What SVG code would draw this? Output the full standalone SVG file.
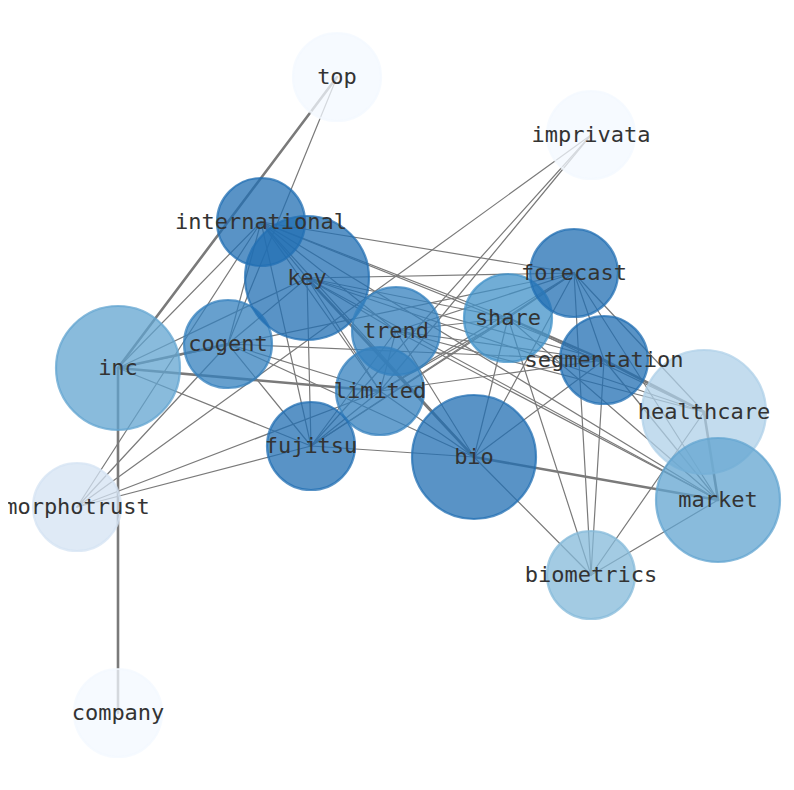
<svg xmlns="http://www.w3.org/2000/svg" width="794" height="790" viewBox="0 0 794 790">
<style>
.bg{fill:#ffffff}
.e{stroke:#7a7a7a;stroke-width:1.2;stroke-linecap:round}
.t{stroke-width:2.6}
.n{fill-opacity:0.75;stroke-opacity:0.75;stroke-width:2.2}
.c0{fill:#f3f8ff;stroke:#f3f8ff}
.c1{fill:#d4e3f3;stroke:#d4e3f3}
.c2{fill:#afd0e8;stroke:#afd0e8}
.c3{fill:#84b9da;stroke:#84b9da}
.c4{fill:#61a4d0;stroke:#61a4d0}
.c5{fill:#4191c8;stroke:#4191c8}
.c6{fill:#3480be;stroke:#3480be}
.c7{fill:#226fb3;stroke:#226fb3}
.l{font-family:"DejaVu Sans Mono","Liberation Mono",monospace;font-size:22px;fill:#333333;text-anchor:middle}
</style>
<defs>
<clipPath id="axclip"><rect x="8" y="0" width="786" height="790"/></clipPath>
</defs>
<rect class="bg" x="0" y="0" width="794" height="790"/>
<g id="connectors">
<line class="e t" x1="337" y1="77" x2="118" y2="368"/>
<line class="e" x1="337" y1="77" x2="228" y2="344"/>
<line class="e" x1="591" y1="135" x2="77" y2="507"/>
<line class="e" x1="591" y1="135" x2="311" y2="446"/>
<line class="e" x1="591" y1="135" x2="380" y2="391"/>
<line class="e t" x1="118" y1="368" x2="118" y2="713"/>
<line class="e t" x1="118" y1="368" x2="228" y2="344"/>
<line class="e t" x1="118" y1="368" x2="380" y2="391"/>
<line class="e" x1="118" y1="368" x2="311" y2="446"/>
<line class="e" x1="118" y1="368" x2="261" y2="222"/>
<line class="e" x1="118" y1="368" x2="307" y2="278"/>
<line class="e" x1="118" y1="368" x2="574" y2="273"/>
<line class="e" x1="261" y1="222" x2="307" y2="278"/>
<line class="e" x1="261" y1="222" x2="228" y2="344"/>
<line class="e" x1="261" y1="222" x2="311" y2="446"/>
<line class="e" x1="261" y1="222" x2="574" y2="273"/>
<line class="e" x1="261" y1="222" x2="508" y2="318"/>
<line class="e" x1="261" y1="222" x2="604" y2="360"/>
<line class="e" x1="261" y1="222" x2="396" y2="331"/>
<line class="e" x1="261" y1="222" x2="474" y2="457"/>
<line class="e" x1="261" y1="222" x2="380" y2="391"/>
<line class="e" x1="261" y1="222" x2="77" y2="507"/>
<line class="e" x1="261" y1="222" x2="718" y2="500"/>
<line class="e" x1="307" y1="278" x2="228" y2="344"/>
<line class="e" x1="307" y1="278" x2="311" y2="446"/>
<line class="e" x1="307" y1="278" x2="380" y2="391"/>
<line class="e t" x1="307" y1="278" x2="474" y2="457"/>
<line class="e" x1="307" y1="278" x2="396" y2="331"/>
<line class="e" x1="307" y1="278" x2="508" y2="318"/>
<line class="e" x1="307" y1="278" x2="574" y2="273"/>
<line class="e" x1="307" y1="278" x2="604" y2="360"/>
<line class="e" x1="307" y1="278" x2="704" y2="412"/>
<line class="e" x1="307" y1="278" x2="718" y2="500"/>
<line class="e" x1="228" y1="344" x2="77" y2="507"/>
<line class="e" x1="228" y1="344" x2="311" y2="446"/>
<line class="e" x1="228" y1="344" x2="380" y2="391"/>
<line class="e" x1="228" y1="344" x2="474" y2="457"/>
<line class="e" x1="228" y1="344" x2="604" y2="360"/>
<line class="e" x1="77" y1="507" x2="311" y2="446"/>
<line class="e" x1="77" y1="507" x2="380" y2="391"/>
<line class="e" x1="311" y1="446" x2="474" y2="457"/>
<line class="e" x1="311" y1="446" x2="380" y2="391"/>
<line class="e" x1="311" y1="446" x2="396" y2="331"/>
<line class="e" x1="311" y1="446" x2="508" y2="318"/>
<line class="e" x1="311" y1="446" x2="574" y2="273"/>
<line class="e" x1="380" y1="391" x2="396" y2="331"/>
<line class="e" x1="380" y1="391" x2="508" y2="318"/>
<line class="e" x1="380" y1="391" x2="574" y2="273"/>
<line class="e" x1="380" y1="391" x2="604" y2="360"/>
<line class="e" x1="380" y1="391" x2="474" y2="457"/>
<line class="e" x1="396" y1="331" x2="508" y2="318"/>
<line class="e" x1="396" y1="331" x2="574" y2="273"/>
<line class="e" x1="396" y1="331" x2="604" y2="360"/>
<line class="e" x1="396" y1="331" x2="474" y2="457"/>
<line class="e" x1="396" y1="331" x2="718" y2="500"/>
<line class="e" x1="396" y1="331" x2="704" y2="412"/>
<line class="e" x1="508" y1="318" x2="574" y2="273"/>
<line class="e" x1="508" y1="318" x2="604" y2="360" style="stroke-width:2"/>
<line class="e" x1="508" y1="318" x2="704" y2="412"/>
<line class="e" x1="508" y1="318" x2="718" y2="500"/>
<line class="e" x1="508" y1="318" x2="474" y2="457"/>
<line class="e" x1="508" y1="318" x2="591" y2="575"/>
<line class="e" x1="574" y1="273" x2="604" y2="360"/>
<line class="e" x1="574" y1="273" x2="474" y2="457"/>
<line class="e" x1="574" y1="273" x2="591" y2="575"/>
<line class="e" x1="574" y1="273" x2="704" y2="412"/>
<line class="e" x1="574" y1="273" x2="718" y2="500"/>
<line class="e t" x1="604" y1="360" x2="704" y2="412"/>
<line class="e" x1="604" y1="360" x2="718" y2="500"/>
<line class="e" x1="604" y1="360" x2="474" y2="457"/>
<line class="e" x1="604" y1="360" x2="591" y2="575"/>
<line class="e t" x1="474" y1="457" x2="718" y2="500"/>
<line class="e" x1="474" y1="457" x2="591" y2="575"/>
<line class="e t" x1="704" y1="412" x2="718" y2="500"/>
<line class="e" x1="704" y1="412" x2="591" y2="575"/>
<line class="e" x1="718" y1="500" x2="591" y2="575"/>
</g>
<g id="node-top"><circle class="n c0" cx="337" cy="77" r="44"/><text class="l" x="337" y="84">top</text></g>
<g id="node-imprivata"><circle class="n c0" cx="591" cy="135" r="44"/><text class="l" x="591" y="142">imprivata</text></g>
<g id="node-company"><circle class="n c0" cx="118" cy="713" r="44"/><text class="l" x="118" y="720">company</text></g>
<g id="node-morphotrust"><circle class="n c1" cx="77" cy="507" r="44"/><text class="l" x="77" y="514" clip-path="url(#axclip)">morphotrust</text></g>
<g id="node-inc"><circle class="n c4" cx="118" cy="368" r="62"/><text class="l" x="118" y="375">inc</text></g>
<g id="node-cogent"><circle class="n c6" cx="228" cy="344" r="44"/><text class="l" x="228" y="351">cogent</text></g>
<g id="node-key"><circle class="n c7" cx="307" cy="278" r="62"/><text class="l" x="307" y="285">key</text></g>
<g id="node-international"><circle class="n c7" cx="261" cy="222" r="44"/><text class="l" x="261" y="229">international</text></g>
<g id="node-trend"><circle class="n c6" cx="396" cy="331" r="44"/><text class="l" x="396" y="338">trend</text></g>
<g id="node-limited"><circle class="n c6" cx="380" cy="391" r="44"/><text class="l" x="380" y="398">limited</text></g>
<g id="node-fujitsu"><circle class="n c7" cx="311" cy="446" r="44"/><text class="l" x="311" y="453">fujitsu</text></g>
<g id="node-bio"><circle class="n c7" cx="474" cy="457" r="62"/><text class="l" x="474" y="464">bio</text></g>
<g id="node-share"><circle class="n c5" cx="508" cy="318" r="44"/><text class="l" x="508" y="325">share</text></g>
<g id="node-forecast"><circle class="n c7" cx="574" cy="273" r="44"/><text class="l" x="574" y="280">forecast</text></g>
<g id="node-healthcare"><circle class="n c2" cx="704" cy="412" r="62"/><text class="l" x="704" y="419">healthcare</text></g>
<g id="node-market"><circle class="n c4" cx="718" cy="500" r="62"/><text class="l" x="718" y="507">market</text></g>
<g id="node-biometrics"><circle class="n c3" cx="591" cy="575" r="44"/><text class="l" x="591" y="582">biometrics</text></g>
<g id="node-segmentation"><circle class="n c7" cx="604" cy="360" r="44"/><text class="l" x="604" y="367">segmentation</text></g>
</svg>
